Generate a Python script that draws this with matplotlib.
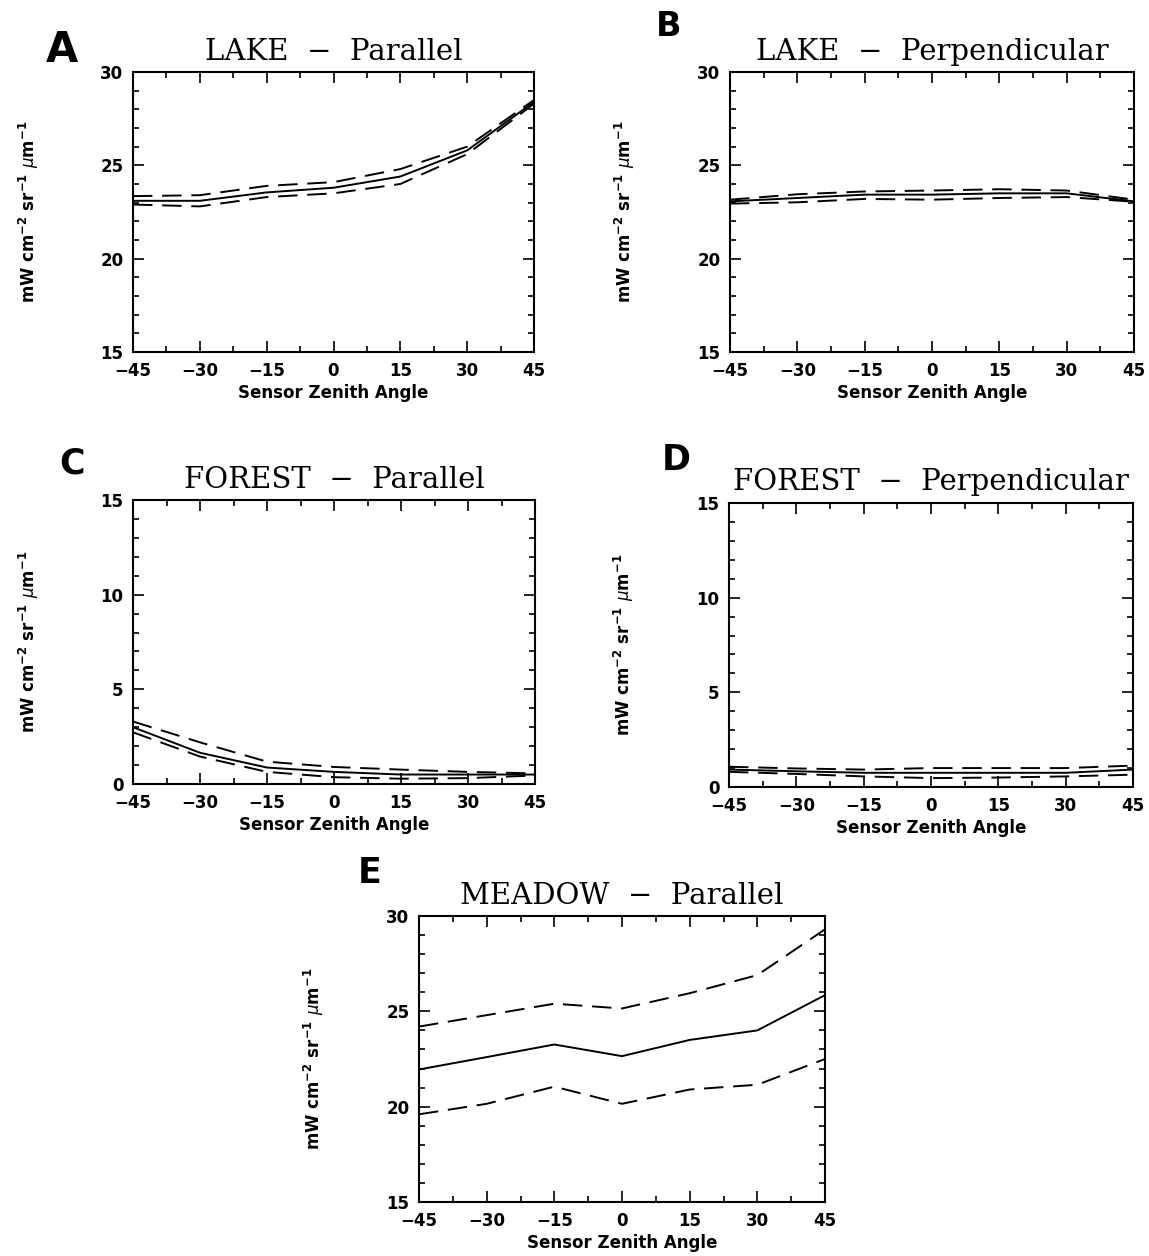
import numpy as np
import matplotlib
matplotlib.use("Agg")
import matplotlib.pyplot as plt
from matplotlib.ticker import MultipleLocator

# sensor zenith angles
angles = [-45, -30, -15, 0, 15, 30, 45]

# mean radiance and +/- band
lake_par_mean = [23.1, 23.1, 23.55, 23.8, 24.4, 25.8, 28.4]
lake_par_hi = [23.35, 23.4, 23.9, 24.1, 24.8, 26.0, 28.5]
lake_par_lo = [22.9, 22.8, 23.3, 23.5, 24.0, 25.6, 28.3]

lake_perp_mean = [23.07, 23.25, 23.43, 23.43, 23.5, 23.5, 23.07]
lake_perp_hi = [23.16, 23.45, 23.6, 23.65, 23.72, 23.65, 23.16]
lake_perp_lo = [22.95, 23.02, 23.2, 23.16, 23.25, 23.3, 23.05]

forest_par_mean = [3.0, 1.65, 0.87, 0.64, 0.5, 0.5, 0.5]
forest_par_hi = [3.3, 2.2, 1.18, 0.9, 0.76, 0.64, 0.56]
forest_par_lo = [2.73, 1.45, 0.64, 0.36, 0.28, 0.31, 0.45]

forest_perp_mean = [0.92, 0.83, 0.75, 0.75, 0.75, 0.75, 0.92]
forest_perp_hi = [1.07, 0.98, 0.92, 1.0, 1.0, 1.0, 1.13]
forest_perp_lo = [0.8, 0.69, 0.56, 0.47, 0.5, 0.56, 0.65]

meadow_par_mean = [21.95, 22.6, 23.26, 22.65, 23.5, 24.0, 25.85]
meadow_par_hi = [24.2, 24.8, 25.4, 25.15, 25.95, 26.9, 29.3]
meadow_par_lo = [19.6, 20.15, 21.05, 20.15, 20.9, 21.15, 22.5]

W, H = 1149, 1256
fig = plt.figure(figsize=(W / 100, H / 100), dpi=100)

ylab = r"mW cm$^{\mathbf{-2}}$ sr$^{\mathbf{-1}}$ $\mu$m$^{\mathbf{-1}}$"


def px_axes(l, t, r, b):
    return fig.add_axes([l / W, 1 - b / H, (r - l) / W, (b - t) / H])


def panel(box, letter, letter_xy, letter_size, title, mean, hi, lo, ylim):
    ax = px_axes(*box)
    ax.plot(angles, mean, color="black", lw=1.4)
    for band in (hi, lo):
        ax.plot(angles, band, color="black", lw=1.4, linestyle=(0, (10, 5)))
    ax.set_xlim(-45, 45)
    ax.set_ylim(*ylim)
    ax.xaxis.set_major_locator(MultipleLocator(15))
    ax.xaxis.set_minor_locator(MultipleLocator(7.5))
    ax.yaxis.set_major_locator(MultipleLocator(5))
    ax.yaxis.set_minor_locator(MultipleLocator(1))
    ax.tick_params(which="both", direction="in", top=True, right=True, width=1.2)
    ax.tick_params(which="major", length=8, labelsize=12, pad=7)
    ax.tick_params(which="minor", length=4)
    for lbl in ax.get_xticklabels() + ax.get_yticklabels():
        lbl.set_fontweight("bold")
    for s in ax.spines.values():
        s.set_linewidth(1.5)
    ax.set_xlabel("Sensor Zenith Angle", fontsize=12, fontweight="bold", labelpad=3)
    ax.set_ylabel(ylab, fontsize=12, fontweight="bold")
    ax.yaxis.set_label_coords(-0.23, 0.5)
    ax.set_title(title, fontsize=21, family="DejaVu Serif", pad=9)
    fig.text(letter_xy[0] / W, 1 - letter_xy[1] / H, letter, fontsize=letter_size,
             fontweight="heavy", ha="center", va="center")
    return ax


panel((133, 72, 534, 352), "A", (62, 50), 30, "LAKE  \u2212  Parallel",
      lake_par_mean, lake_par_hi, lake_par_lo, (15, 30))
panel((730, 72, 1134, 352), "B", (669, 26), 24, "LAKE  \u2212  Perpendicular",
      lake_perp_mean, lake_perp_hi, lake_perp_lo, (15, 30))
panel((133, 500, 535, 784), "C", (72, 464), 25, "FOREST  \u2212  Parallel",
      forest_par_mean, forest_par_hi, forest_par_lo, (0, 15))
panel((729, 503, 1133, 787), "D", (676, 460), 25, "FOREST  \u2212  Perpendicular",
      forest_perp_mean, forest_perp_hi, forest_perp_lo, (0, 15))
panel((419, 916, 825, 1202), "E", (370, 873), 25, "MEADOW  \u2212  Parallel",
      meadow_par_mean, meadow_par_hi, meadow_par_lo, (15, 30))

fig.savefig("out.png", dpi=100)
